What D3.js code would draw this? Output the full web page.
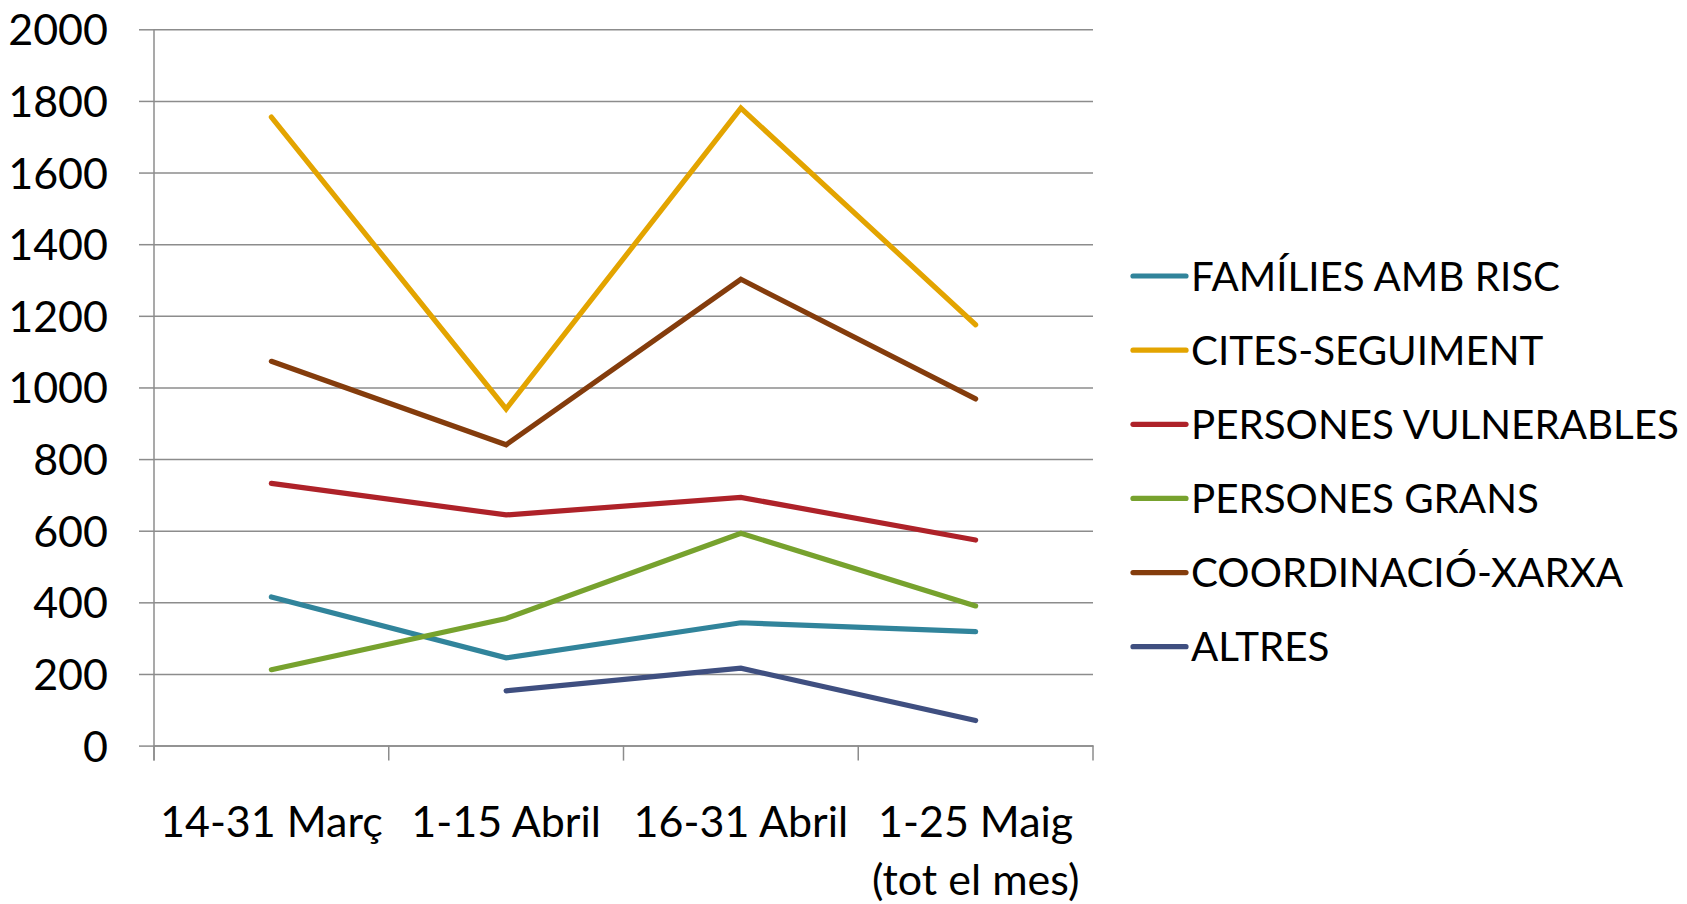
<!DOCTYPE html>
<html>
<head>
<meta charset="utf-8">
<script src="https://cdn.jsdelivr.net/npm/d3@7"></script>
<style>
  html, body { margin: 0; padding: 0; background: #fff; }
  svg text { font-family: Lato, "Open Sans", sans-serif; fill: #000; }
</style>
</head>
<body>
<div id="chart"></div>
<script>
// categories (a "\n" splits a label onto two lines)
const categories = ["14-31 Març", "1-15 Abril", "16-31 Abril", "1-25 Maig\n(tot el mes)"];

// series values
const familiesRisc        = [415, 245, 343, 318];
const citesSeguiment      = [1755, 940, 1780, 1175];
const personesVulnerables = [732, 644, 693, 574];
const personesGrans       = [212, 355, 593, 390];
const coordinacioXarxa    = [1073, 840, 1302, 968];
const altres              = [null, 153, 216, 70];

const seriesNames = ["FAMÍLIES AMB RISC", "CITES-SEGUIMENT", "PERSONES VULNERABLES",
                     "PERSONES GRANS", "COORDINACIÓ-XARXA", "ALTRES"];
const yTicks = [0, 200, 400, 600, 800, 1000, 1200, 1400, 1600, 1800, 2000];

const colors = ["#31849B", "#E3A400", "#AE2229", "#77A22E", "#843C0C", "#3F4F80"];

const seriesValues = [familiesRisc, citesSeguiment, personesVulnerables,
                      personesGrans, coordinacioXarxa, altres];
const series = seriesNames.map((name, i) => ({ name, values: seriesValues[i], color: colors[i] }));

const W = 1687, H = 904;
const plot = { left: 154, right: 1093, top: 29.3, bottom: 745.6 };
const fontSize = 43;
const gridColor = "#8c8c8c";
const lineWidth = 5.2;

const svg = d3.select('#chart').append('svg')
    .attr('width', W)
    .attr('height', H);

const x = d3.scaleBand()
    .domain(categories)
    .range([plot.left, plot.right])
    .padding(0);

const y = d3.scaleLinear()
    .domain([0, 2000])
    .range([plot.bottom, plot.top]);

const cx = c => x(c) + x.bandwidth() / 2;

// horizontal gridlines
const grid = svg.append('g')
    .attr('transform', `translate(${plot.left},0)`)
    .call(d3.axisLeft(y).tickValues(yTicks).tickSize(-(plot.right - plot.left)).tickFormat(''));
grid.select('.domain').remove();
grid.selectAll('line').attr('stroke', gridColor).attr('stroke-width', 1.5);

// y axis with outer ticks and labels
const yAxis = svg.append('g')
    .attr('transform', `translate(${plot.left},0)`)
    .call(d3.axisLeft(y).tickValues(yTicks).tickFormat(d3.format('d'))
        .tickSize(15).tickSizeOuter(0).tickPadding(31));
yAxis.select('.domain').attr('stroke', gridColor).attr('stroke-width', 1.5)
    .attr('d', `M0,${plot.top}V${plot.bottom + 15}`);
yAxis.selectAll('line').attr('stroke', gridColor).attr('stroke-width', 1.5);
yAxis.selectAll('text')
    .style('font-size', fontSize + 'px')
    .attr('dy', '0.36em');

// x axis: line, ticks on band edges, labels at band centres
const xAxis = svg.append('g')
    .attr('transform', `translate(0,${plot.bottom})`)
    .call(d3.axisBottom(x).tickSize(0).tickSizeOuter(0).tickPadding(0));
xAxis.select('.domain').attr('stroke', gridColor).attr('stroke-width', 1.5);
xAxis.selectAll('.tick line').remove();
xAxis.selectAll('.tick text')
    .style('font-size', fontSize + 'px')
    .attr('y', 0)
    .attr('dy', null)
    .text(null)
    .each(function(d) {
        const t = d3.select(this);
        d.split('\n').forEach((line, i) => {
            t.append('tspan')
                .attr('x', 0)
                .attr('y', 91 + i * 58)
                .text(line);
        });
    });

const edges = categories.map(c => x(c)).concat([plot.right]);
xAxis.selectAll('line.edge')
    .data(edges)
    .enter().append('line')
    .attr('class', 'edge')
    .attr('x1', d => d).attr('x2', d => d)
    .attr('y1', 0).attr('y2', 15)
    .attr('stroke', gridColor)
    .attr('stroke-width', 1.5);

// lines
const line = d3.line()
    .defined(d => d.v != null)
    .x(d => cx(d.c))
    .y(d => y(d.v));

svg.append('g')
    .selectAll('path')
    .data(series)
    .enter().append('path')
    .attr('d', s => line(s.values.map((v, i) => ({ c: categories[i], v }))))
    .attr('fill', 'none')
    .attr('stroke', s => s.color)
    .attr('stroke-width', lineWidth)
    .attr('stroke-linecap', 'round')
    .attr('stroke-linejoin', 'miter');

// legend
const legendY = d3.scalePoint()
    .domain(seriesNames)
    .range([276, 646.7]);

const legend = svg.append('g')
    .selectAll('g')
    .data(series)
    .enter().append('g')
    .attr('transform', s => `translate(0,${legendY(s.name)})`);

legend.append('line')
    .attr('x1', 1133).attr('x2', 1186)
    .attr('y1', 0).attr('y2', 0)
    .attr('stroke', s => s.color)
    .attr('stroke-width', lineWidth)
    .attr('stroke-linecap', 'round');

const legendText = legend.append('text')
    .attr('x', 1191)
    .attr('dy', '0.36em')
    .style('font-size', fontSize + 'px')
    .text(s => s.name);

// shrink legend text so the longest name ends where the reference does
const widest = d3.max(legendText.nodes(), n => n.getComputedTextLength());
const legendSize = Math.min(fontSize, fontSize * 488 / widest);
legendText.style('font-size', legendSize + 'px');
</script>
</body>
</html>
